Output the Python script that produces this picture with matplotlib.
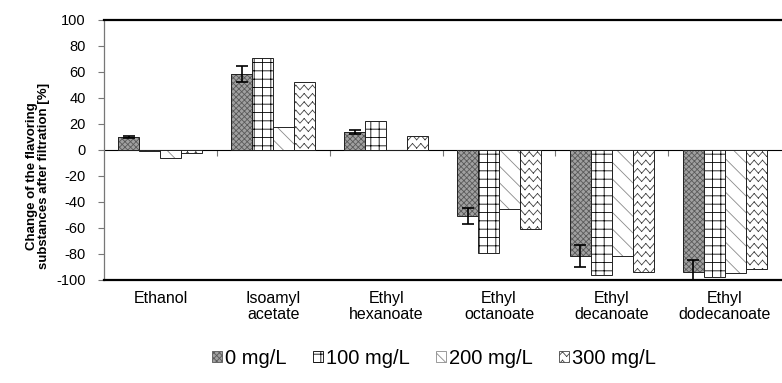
import warnings

import numpy as np
import matplotlib
matplotlib.use("Agg")
import matplotlib.pyplot as plt
import matplotlib.hatch as mhatch
from matplotlib.path import Path
from matplotlib.patches import Patch
from matplotlib.ticker import NullFormatter

plt.rcParams['font.family'] = ['Liberation Sans', 'DejaVu Sans']
plt.rcParams['hatch.linewidth'] = 0.6
plt.rcParams['axes.unicode_minus'] = False

compounds = ["Ethanol", "Isoamyl\nacetate", "Ethyl\nhexanoate", "Ethyl\noctanoate",
             "Ethyl\ndecanoate", "Ethyl\ndodecanoate"]
doses = ["0 mg/L", "100 mg/L", "200 mg/L", "300 mg/L"]

change_0 = [10, 58.5, 14, -51, -81.5, -94]
change_100 = [-0.5, 70.5, 22.5, -79, -96, -97.5]
change_200 = [-6, 17.5, 0, -45.5, -81.5, -94.5]
change_300 = [-2.5, 52, 11, -61, -93.5, -91.5]
err_0 = [1, 6, 1.5, 6, 8.5, 9.5]


class ZigZagHatch(mhatch.HatchPatternBase):
    """Horizontal zigzag lines, selected with the 'z' hatch character.

    Each stroke is its own two-point subpath so that Agg's fill of the
    hatch path has zero area.
    """

    def __init__(self, hatch, density):
        self.num_lines = int(hatch.count('z') * density)
        self.teeth = self.num_lines
        self.num_vertices = self.num_lines * 2 * self.teeth * 2

    def set_vertices_and_codes(self, vertices, codes):
        nseg = 2 * self.teeth
        steps, stepsize = np.linspace(0.0, 1.0, self.num_lines, False, retstep=True)
        steps += stepsize / 2.
        xs = np.linspace(0.0, 1.0, nseg + 1)
        amp = np.where(np.arange(nseg + 1) % 2 == 0, -0.28, 0.28) * stepsize
        idx = 0
        for y in steps:
            for j in range(nseg):
                vertices[idx] = (xs[j], y + amp[j])
                vertices[idx + 1] = (xs[j + 1], y + amp[j + 1])
                codes[idx] = Path.MOVETO
                codes[idx + 1] = Path.LINETO
                idx += 2


mhatch._hatch_types.append(ZigZagHatch)
warnings.filterwarnings("ignore", message=".*hatch must consist.*")

# face colour, hatch, hatch colour per dose
styles = [
    ('#a0a0a0', 'xxxxxx', '#5a5a5a'),
    ('white', '++', 'black'),
    ('white', '\\\\', '#8a8a8a'),
    ('white', 'zz', '#444444'),
]

fig = plt.figure(figsize=(7.82, 3.83), dpi=100)
ax = fig.add_axes([0.133, 0.269, 0.866, 0.679])

x = np.arange(len(compounds))
width = 0.186
series = [change_0, change_100, change_200, change_300]

for k, vals in enumerate(series):
    face, hatch, hcol = styles[k]
    pos = x + (k - 1.5) * width
    ax.bar(pos, vals, width, color=face, hatch=hatch, edgecolor=hcol,
           linewidth=0, zorder=2)
    ax.bar(pos, vals, width, fill=False, edgecolor='#222222', linewidth=0.7, zorder=3)
    if k == 0:
        ax.errorbar(pos, vals, yerr=err_0, fmt='none', ecolor='black',
                    elinewidth=1.2, capsize=4, capthick=1.2, zorder=4)

ax.set_xlim(-0.5, len(compounds) - 0.5)
ax.set_ylim(-100, 100)
ax.set_yticks(np.arange(-100, 101, 20))
ax.tick_params(axis='y', labelsize=10.5, length=4, color='#777777', width=0.8, pad=9)
ax.set_xticks(x)
ax.set_xticklabels(compounds, fontsize=11.5, linespacing=1.1)
ax.tick_params(axis='x', length=0, pad=8)

for side in ('top', 'bottom'):
    ax.spines[side].set_color('black')
    ax.spines[side].set_linewidth(1.6)
ax.spines['right'].set_visible(False)
ax.spines['left'].set_color('#777777')
ax.spines['left'].set_linewidth(0.9)

# zero line with category separators
zero_ax = ax.secondary_xaxis(0.5)
zero_ax.set_xticks(np.arange(0.5, len(compounds) - 0.5, 1.0))
zero_ax.xaxis.set_major_formatter(NullFormatter())
zero_ax.tick_params(axis='x', direction='out', length=4, color='#777777', width=0.8)
zero_ax.xaxis.set_ticks_position('bottom')
zero_ax.spines['bottom'].set_color('#888888')
zero_ax.spines['bottom'].set_linewidth(1.0)

ax.set_ylabel("Change of the flavoring\nsubstances after filtration [%]",
              fontsize=9.5, fontweight='bold', linespacing=1.0)
ax.yaxis.set_label_coords(-0.08, 0.40)

handles = [Patch(facecolor=f, hatch=h, edgecolor=c, linewidth=0.6) for f, h, c in styles]
fig.legend(handles, doses, loc='center', bbox_to_anchor=(0.555, 0.065), ncol=4,
           frameon=False, fontsize=14.5, handlelength=0.5, handleheight=0.5,
           handletextpad=0.15, columnspacing=1.3)

fig.savefig("out.png", dpi=100)
